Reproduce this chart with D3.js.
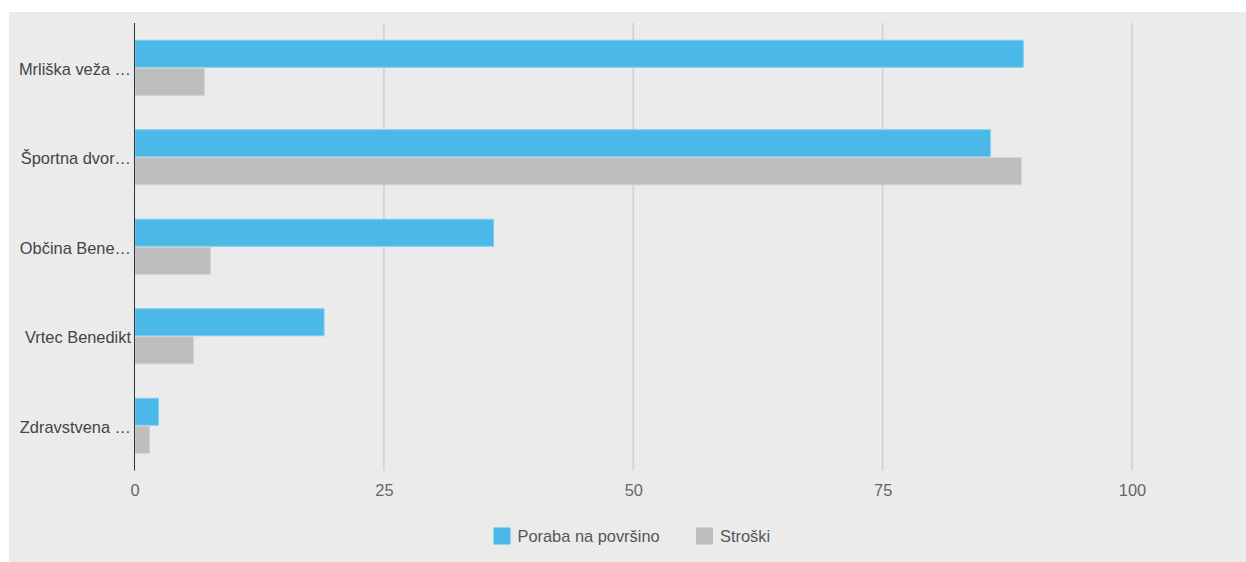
<!DOCTYPE html>
<html>
<head>
<meta charset="utf-8">
<script src="https://cdn.jsdelivr.net/npm/d3@7"></script>
<style>
  html, body { margin: 0; padding: 0; background: #fff; }
  svg { display: block; font-family: "Liberation Sans", Arial, sans-serif; }
</style>
</head>
<body>
<svg id="chart" width="1246" height="562"></svg>
<script>
// Building labels (already shortened as shown on the axis)
const categories = ["Mrliška veža …", "Športna dvor…", "Občina Bene…", "Vrtec Benedikt", "Zdravstvena …"];
const seriesNames = ["Poraba na površino", "Stroški"];
const porabaValues = [89.1, 85.8, 36.0, 19.0, 2.4];
const stroskiValues = [7.0, 88.9, 7.6, 5.9, 1.5];
const tickValues = [0, 25, 50, 75, 100];
const colors = ["#4ab9e7", "#bdbdbd"];
const strokes = ["#7fcdee", "#d0d0d0"];

const svg = d3.select("#chart");

// panel background
svg.append("rect").attr("x", 9).attr("y", 12).attr("width", 1237).attr("height", 550).attr("fill", "#ebebeb");

const x = d3.scaleLinear().domain([0, 100]).range([134.5, 1132]);
const y0 = d3.scaleBand().domain(categories).range([23, 470.5]);
const inner = 55;
const pad = (y0.bandwidth() - inner) / 2;
const y1 = d3.scaleBand().domain(seriesNames).range([pad, pad + inner]).paddingInner(1 / 28);

// vertical gridlines
svg.append("g").selectAll("line").data(tickValues.filter(d => d > 0)).join("line")
  .attr("x1", d => x(d)).attr("x2", d => x(d))
  .attr("y1", 23).attr("y2", 470.5)
  .attr("stroke", "#cfcfcf").attr("stroke-width", 1.5);

// bars
const rows = categories.map((c, i) => ({ cat: c, vals: [porabaValues[i], stroskiValues[i]] }));
const g = svg.append("g");
rows.forEach(r => {
  r.vals.forEach((v, j) => {
    g.append("rect")
      .attr("x", x(0) + 0.5)
      .attr("y", y0(r.cat) + y1(seriesNames[j]))
      .attr("width", x(v) - x(0) - 0.5)
      .attr("height", y1.bandwidth())
      .attr("fill", colors[j])
      .attr("stroke", strokes[j])
      .attr("stroke-width", 1);
  });
});

// baseline axis
svg.append("line").attr("x1", x(0)).attr("x2", x(0)).attr("y1", 23).attr("y2", 470.5)
  .attr("stroke", "#333").attr("stroke-width", 1);

// x tick labels
const xAxis = d3.axisBottom(x).tickValues(tickValues).tickSize(0).tickPadding(14);
const xa = svg.append("g").attr("transform", "translate(0,470.5)").call(xAxis);
xa.select(".domain").remove();
xa.selectAll("text").attr("font-size", 16.4).attr("fill", "#666").attr("font-family", "Liberation Sans, Arial, sans-serif");

// y category labels
const yAxis = d3.axisLeft(y0).tickSize(0).tickPadding(3);
const ya = svg.append("g").attr("transform", "translate(134,1.5)").call(yAxis);
ya.select(".domain").remove();
ya.selectAll("text").attr("font-size", 16.4).attr("fill", "#444").attr("font-family", "Liberation Sans, Arial, sans-serif");

// legend
const legendX = [493.5, 696];
const leg = svg.append("g");
seriesNames.forEach((s, i) => {
  leg.append("rect").attr("x", legendX[i]).attr("y", 527.5).attr("width", 17).attr("height", 17).attr("fill", colors[i]);
  leg.append("text").attr("x", legendX[i] + 24).attr("y", 536.5).attr("dy", "0.35em")
    .attr("font-size", 16.4).attr("fill", "#555").text(s);
});
</script>
</body>
</html>
